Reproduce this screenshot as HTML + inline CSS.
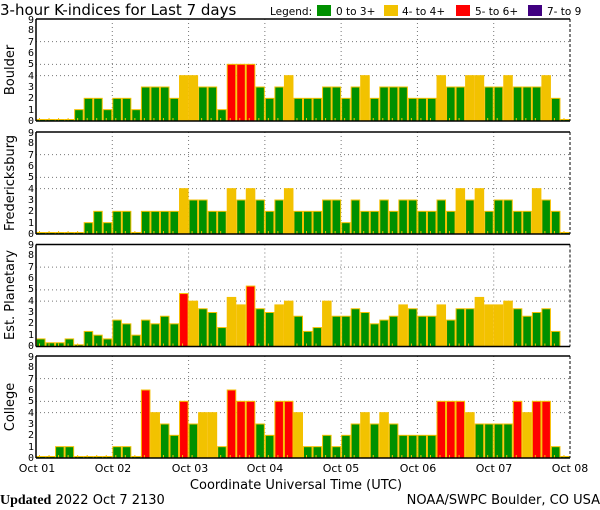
<!DOCTYPE html>
<html><head><meta charset="utf-8"><style>
html,body{margin:0;padding:0;background:#fff;width:600px;height:510px;overflow:hidden}
svg{display:block;font-family:"DejaVu Sans","Liberation Sans",sans-serif}
</style></head><body>
<svg id="s" width="600" height="510" viewBox="0 0 600 510" xmlns="http://www.w3.org/2000/svg">
<text x="0" y="15" font-size="15" fill="#000">3-hour K-indices for Last 7 days</text>
<text x="270" y="15" font-size="10.5" fill="#000">Legend:</text>
<rect x="317" y="5" width="14" height="11" fill="#009000"/><text x="336" y="15" font-size="10.5">0 to 3+</text>
<rect x="384" y="5" width="14" height="11" fill="#f2c200"/><text x="402" y="15" font-size="10.5">4- to 4+</text>
<rect x="456" y="5" width="14" height="11" fill="#ff0000"/><text x="475" y="15" font-size="10.5">5- to 6+</text>
<rect x="528" y="5" width="14" height="11" fill="#400080"/><text x="547" y="15" font-size="10.5">7- to 9</text>
<g id="bars"></g>
<g font-size="13" text-anchor="middle">
<text transform="translate(14,70) rotate(-90)">Boulder</text>
<text transform="translate(14,183) rotate(-90)">Fredericksburg</text>
<text transform="translate(14,295) rotate(-90)">Est. Planetary</text>
<text transform="translate(14,407) rotate(-90)">College</text>
</g>
<g font-size="10" text-anchor="end" font-family="DejaVu Sans Mono,Liberation Mono,monospace">
<text x="34" y="124">0</text><text x="34" y="113">1</text><text x="34" y="101">2</text><text x="34" y="90">3</text><text x="34" y="79">4</text><text x="34" y="67">5</text><text x="34" y="56">6</text><text x="34" y="45">7</text><text x="34" y="33">8</text><text x="34" y="23">9</text>
<text x="34" y="237">0</text><text x="34" y="226">1</text><text x="34" y="214">2</text><text x="34" y="203">3</text><text x="34" y="192">4</text><text x="34" y="180">5</text><text x="34" y="169">6</text><text x="34" y="158">7</text><text x="34" y="146">8</text><text x="34" y="136">9</text>
<text x="34" y="349">0</text><text x="34" y="338">1</text><text x="34" y="326">2</text><text x="34" y="315">3</text><text x="34" y="304">4</text><text x="34" y="292">5</text><text x="34" y="281">6</text><text x="34" y="270">7</text><text x="34" y="258">8</text><text x="34" y="248">9</text>
<text x="34" y="461">0</text><text x="34" y="450">1</text><text x="34" y="438">2</text><text x="34" y="427">3</text><text x="34" y="416">4</text><text x="34" y="404">5</text><text x="34" y="393">6</text><text x="34" y="382">7</text><text x="34" y="370">8</text><text x="34" y="360">9</text>
</g>
<g font-size="11" text-anchor="middle">
<text x="37" y="472">Oct 01</text><text x="113" y="472">Oct 02</text><text x="190" y="472">Oct 03</text><text x="265" y="472">Oct 04</text><text x="341" y="472">Oct 05</text><text x="418" y="472">Oct 06</text><text x="494" y="472">Oct 07</text><text x="570" y="472">Oct 08</text>
</g>
<text x="296" y="489" font-size="13" text-anchor="middle">Coordinate Universal Time (UTC)</text>
<text x="0" y="504" font-size="13"><tspan font-family="Liberation Serif,serif" font-weight="bold" font-size="14">Updated</tspan> 2022 Oct  7 2130</text>
<text x="600" y="504" font-size="13" text-anchor="end">NOAA/SWPC Boulder, CO USA</text>
</svg>
<script>
var data=[
[0,0,0,0,1,2,2,1, 2,2,1,3,3,3,2,4, 4,3,3,1,5,5,5,3, 2,3,4,2, 2,2,3,3,2,3,4,2,3,3,3,2,2,2,4,3,3,4,4,3,3,4,3,3,3,4,2,0],
[0,0,0,0,0,1,2,1, 2,2,0,2,2,2,2,4, 3,3,2,2,4,3,4,3, 2,3,4,2, 2,2,3,3,1,3,2,2,3,2,3,3,2,2,3,2,4,3,4,2,3,3,2,2,4,3,2,0],
[0.67,0.33,0.33,0.67,0.15,1.33,1,0.67, 2.33,2,1,2.33,2,2.67,2,4.67, 4,3.33,3,1.67,4.33,3.67,5.33,3.33, 3,3.67,4,2.67, 1.33,1.67,4,2.67,2.67,3.33,3,2,2.33,2.67,3.67,3.33,2.67,2.67,3.67,2.33,3.33,3.33,4.33,3.67,3.67,4,3.33,2.67,3,3.33,1.33,-1],
[0,0,1,1,0,0,0,0, 1,1,0,6,4,3,2,5, 3,4,4,1,6,5,5,3, 2,5,5,4, 1,1,2,1,2,3,4,3,4,3,2,2,2,2,5,5,5,4,3,3,3,3,5,4,5,5,1,0]];
var tops=[19,132,244.5,356],H=102,U=H/9,L=36,R=570,W=(R-L)/56;
var g=document.getElementById('bars'),s='';
function col(v){return v>=6.67?'#400080':v>=4.67?'#ff0000':v>=3.67?'#f2c200':'#009000';}
for(var p=0;p<4;p++){
 var t=tops[p],b=t+H;
 [4,5,7].forEach(function(l){var y=b-l*U;s+='<line x1="'+L+'" x2="'+R+'" y1="'+y+'" y2="'+y+'" stroke="#777" stroke-dasharray="1,3"/>';});
 for(var d=1;d<7;d++){var x=L+d*8*W;s+='<line x1="'+x+'" x2="'+x+'" y1="'+t+'" y2="'+b+'" stroke="#777" stroke-dasharray="1,3"/>';}
 for(var k=0;k<56;k++){var v=data[p][k];if(v<0)continue;var h=Math.max(v*U,1.5);var x=L+k*W;
  s+='<rect x="'+(x+0.5)+'" y="'+(b-h)+'" width="'+(W-1)+'" height="'+h+'" fill="'+col(v)+'" stroke="#f5c000" stroke-width="1"/>';
  s+='<rect x="'+(x+3)+'" y="'+(b-3)+'" width="1" height="3" fill="#f5c000"/>';}
 s+='<line x1="'+L+'" x2="'+R+'" y1="'+t+'" y2="'+t+'" stroke="#000" stroke-width="1.5"/>';
 s+='<line x1="'+L+'" x2="'+R+'" y1="'+b+'" y2="'+b+'" stroke="#000" stroke-width="1.5"/>';
 s+='<line x1="'+L+'" x2="'+L+'" y1="'+t+'" y2="'+b+'" stroke="#000" stroke-width="1.5"/>';
 s+='<line x1="'+R+'" x2="'+R+'" y1="'+t+'" y2="'+b+'" stroke="#000" stroke-width="1" stroke-dasharray="3,2"/>';
}
g.innerHTML=s;
</script>
</body></html>
